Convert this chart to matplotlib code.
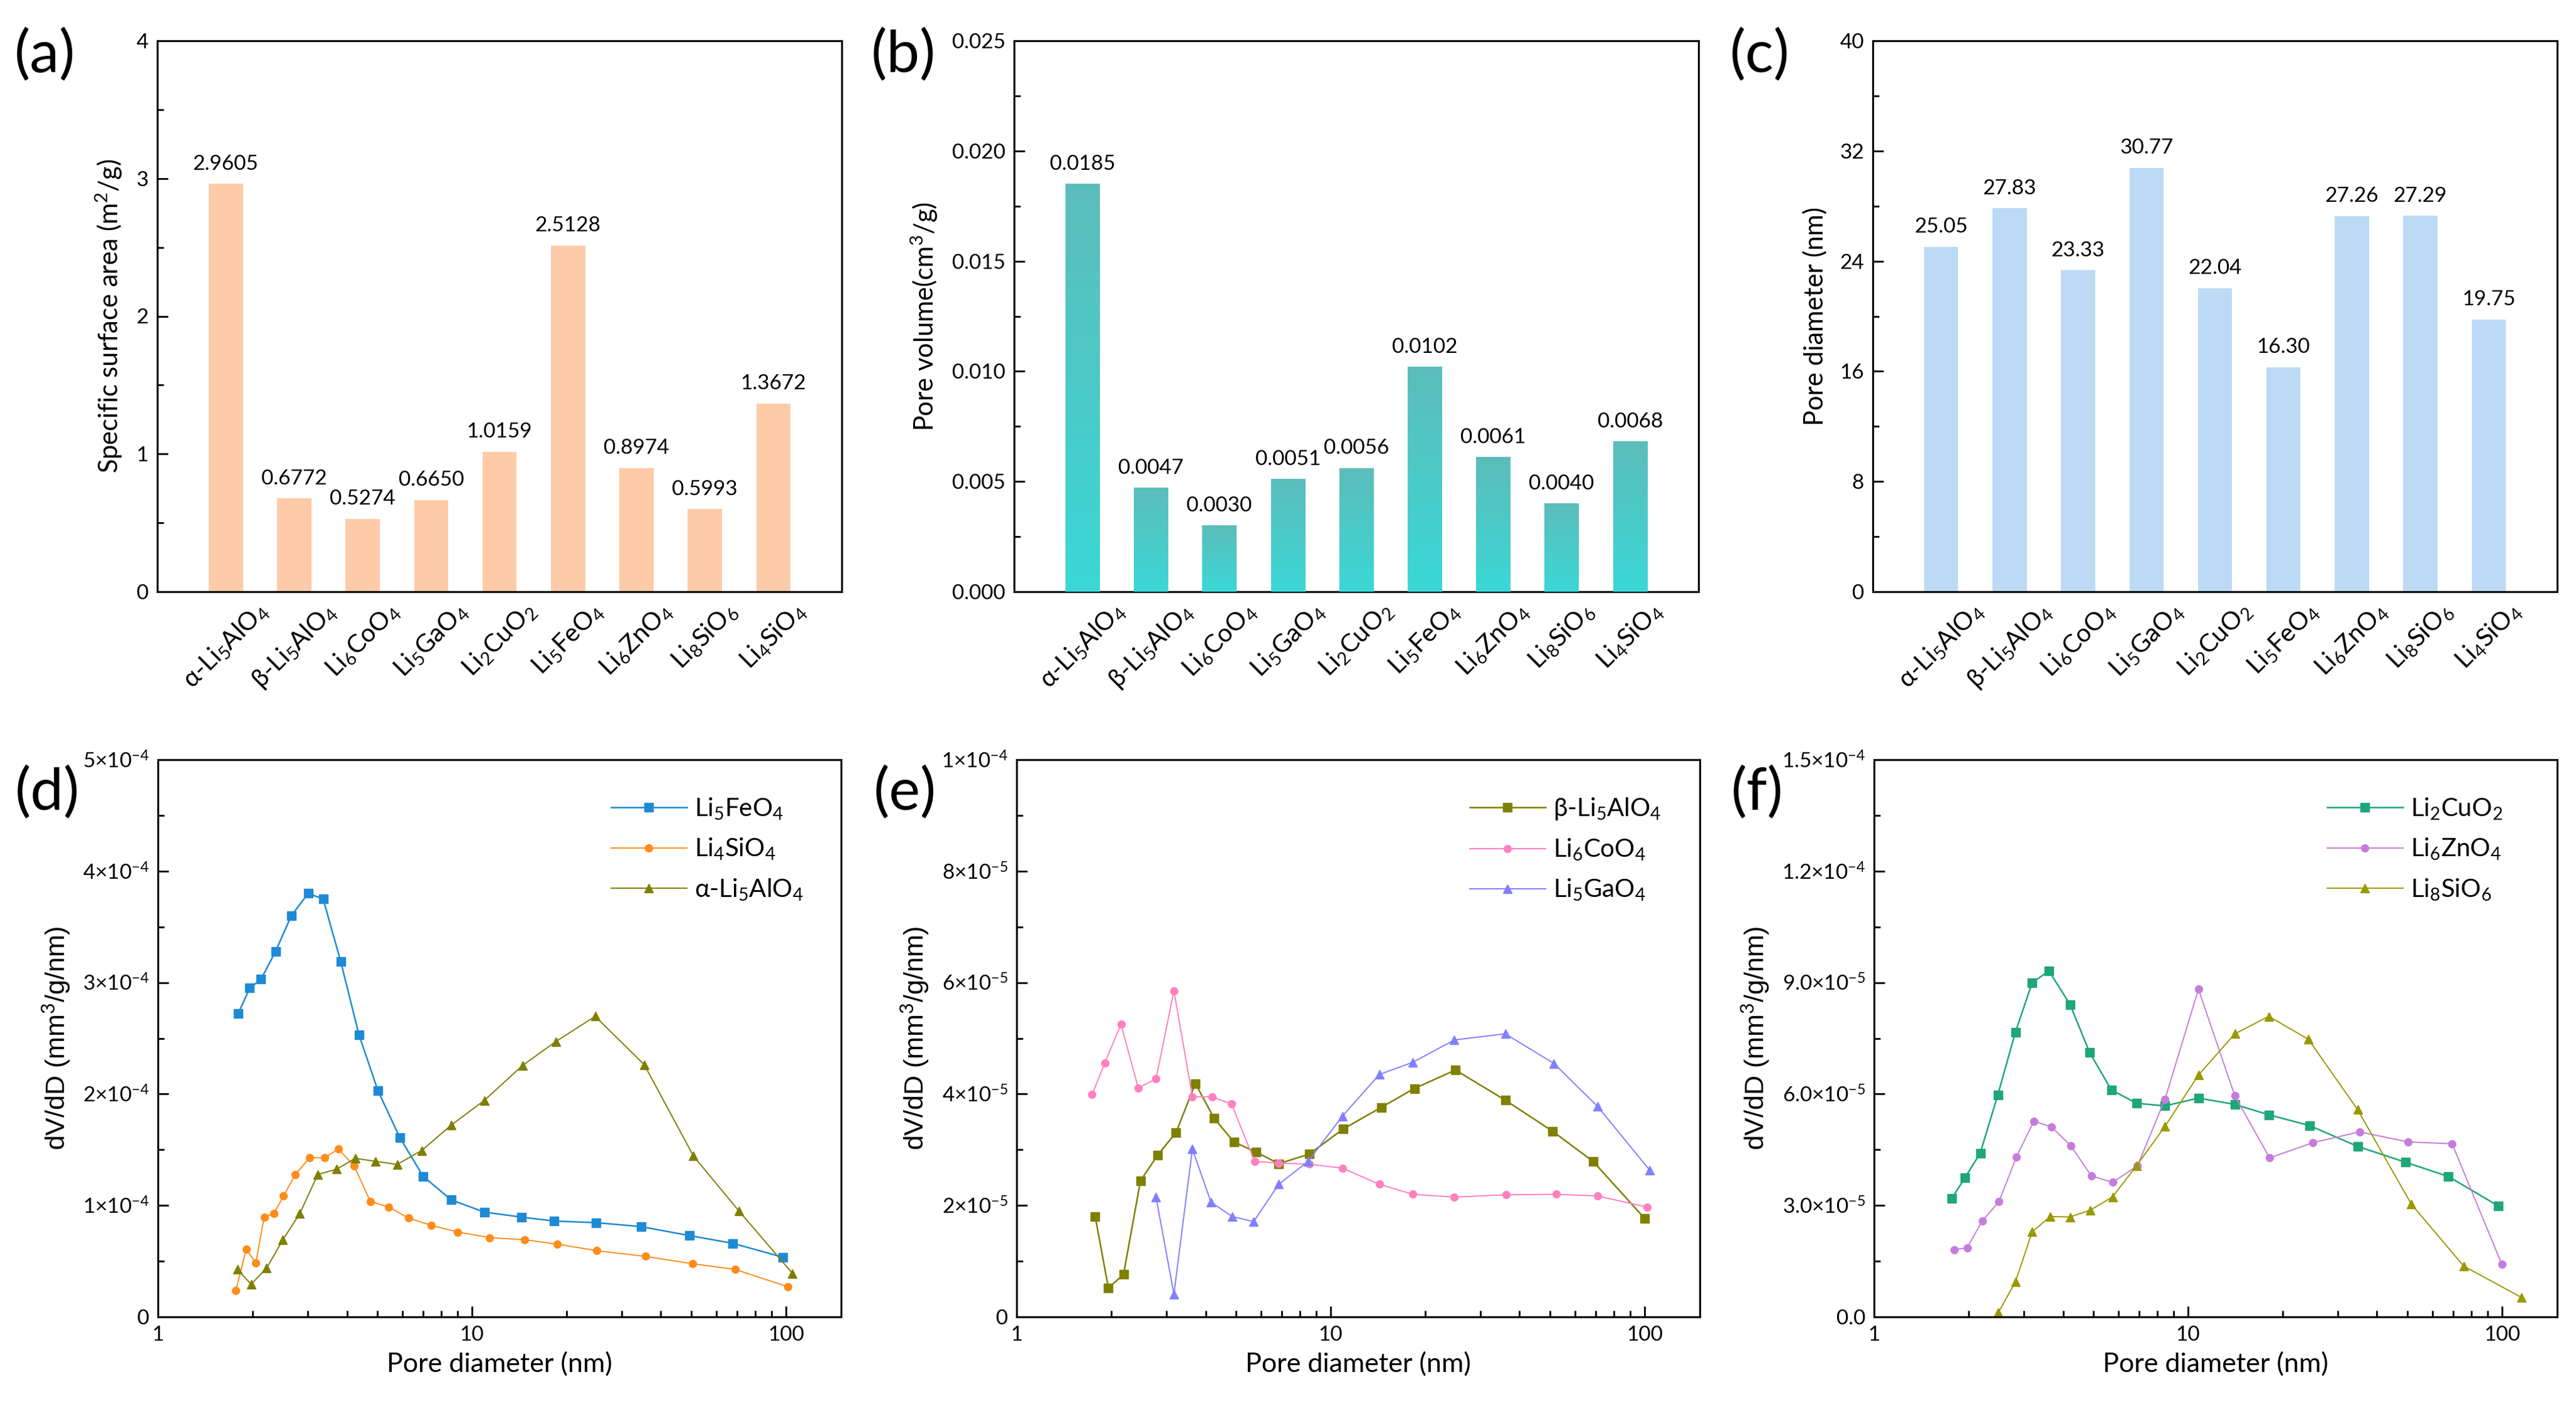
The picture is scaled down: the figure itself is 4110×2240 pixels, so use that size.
import numpy as np
import matplotlib
matplotlib.use("Agg")
import matplotlib.pyplot as plt
from matplotlib.colors import LinearSegmentedColormap
from matplotlib.ticker import MultipleLocator, FixedLocator, LogLocator, NullFormatter

plt.rcParams['font.family'] = ['Lato', 'DejaVu Sans']
plt.rcParams['mathtext.fontset'] = 'custom'
plt.rcParams['mathtext.rm'] = 'Lato'
plt.rcParams['mathtext.it'] = 'Lato:italic'
plt.rcParams['mathtext.bf'] = 'Lato:bold'

# ---- bar data (a)-(c)
samples = ['α-Li$_5$AlO$_4$', 'β-Li$_5$AlO$_4$', 'Li$_6$CoO$_4$', 'Li$_5$GaO$_4$', 'Li$_2$CuO$_2$',
           'Li$_5$FeO$_4$', 'Li$_6$ZnO$_4$', 'Li$_8$SiO$_6$', 'Li$_4$SiO$_4$']
surface_area = [2.9605, 0.6772, 0.5274, 0.6650, 1.0159, 2.5128, 0.8974, 0.5993, 1.3672]
pore_volume = [0.0185, 0.0047, 0.0030, 0.0051, 0.0056, 0.0102, 0.0061, 0.0040, 0.0068]
pore_diameter = [25.05, 27.83, 23.33, 30.77, 22.04, 16.30, 27.26, 27.29, 19.75]

# ---- pore size distributions (d)
d_fe_x = [1.80, 1.96, 2.13, 2.37, 2.66, 3.01, 3.36, 3.82, 4.37, 5.02, 5.89, 7.0, 8.59, 10.96, 14.4,
          18.3, 24.9, 34.6, 49.2, 67.8, 98]
d_fe_y = [2.72, 2.95, 3.03, 3.28, 3.60, 3.80, 3.75, 3.19, 2.53, 2.03, 1.61, 1.26, 1.05, 0.94, 0.895,
          0.86, 0.845, 0.81, 0.73, 0.66, 0.535]
d_si_x = [1.77, 1.91, 2.05, 2.18, 2.34, 2.51, 2.74, 3.04, 3.39, 3.76, 4.21, 4.75, 5.44, 6.28, 7.43,
          9.01, 11.4, 14.7, 18.7, 25.0, 35.7, 50.4, 68.9, 101.6]
d_si_y = [0.235, 0.606, 0.485, 0.895, 0.927, 1.083, 1.278, 1.427, 1.427, 1.505, 1.357, 1.036, 0.985,
          0.887, 0.821, 0.762, 0.711, 0.692, 0.653, 0.594, 0.543, 0.477, 0.426, 0.27]
d_al_x = [1.79, 1.98, 2.22, 2.50, 2.83, 3.23, 3.71, 4.25, 4.92, 5.78, 6.92, 8.59, 10.96, 14.5, 18.5,
          24.7, 35.4, 50.8, 70.9, 105]
d_al_y = [0.426, 0.293, 0.438, 0.692, 0.927, 1.278, 1.325, 1.423, 1.396, 1.368, 1.493, 1.72, 1.943,
          2.256, 2.47, 2.697, 2.263, 1.443, 0.95, 0.39]

# ---- (e)
e_bal_x = [1.78, 1.96, 2.19, 2.48, 2.81, 3.22, 3.71, 4.25, 4.92, 5.78, 6.84, 8.55, 10.96, 14.5, 18.5,
           25.0, 36.0, 51.0, 68.6, 100]
e_bal_y = [1.80, 0.52, 0.76, 2.44, 2.90, 3.31, 4.19, 3.57, 3.14, 2.96, 2.75, 2.92, 3.37, 3.76, 4.10,
           4.43, 3.89, 3.33, 2.79, 1.77]
e_co_x = [1.74, 1.91, 2.15, 2.44, 2.78, 3.17, 3.63, 4.19, 4.84, 5.73, 6.84, 8.55, 10.9, 14.3, 18.3,
          24.8, 36.2, 52.3, 70.8, 102]
e_co_y = [3.99, 4.56, 5.25, 4.11, 4.27, 5.85, 3.95, 3.95, 3.82, 2.79, 2.76, 2.74, 2.67, 2.38, 2.20,
          2.15, 2.19, 2.20, 2.17, 1.97]
e_ga_x = [2.78, 3.17, 3.63, 4.16, 4.86, 5.69, 6.84, 8.48, 10.9, 14.3, 18.3, 24.8, 36.0, 51.4, 70.8, 104]
e_ga_y = [2.15, 0.41, 3.01, 2.06, 1.80, 1.71, 2.38, 2.79, 3.60, 4.35, 4.57, 4.97, 5.08, 4.55, 3.78, 2.63]

# ---- (f)
f_cu_x = [1.77, 1.95, 2.18, 2.48, 2.82, 3.19, 3.61, 4.21, 4.86, 5.70, 6.86, 8.45, 10.8, 14.1, 18.1,
          24.4, 34.7, 49.4, 67.5, 97.2]
f_cu_y = [3.19, 3.75, 4.41, 5.98, 7.66, 9.0, 9.31, 8.41, 7.12, 6.11, 5.75, 5.68, 5.89, 5.72, 5.44,
          5.15, 4.59, 4.16, 3.78, 2.99]
f_zn_x = [1.80, 1.98, 2.21, 2.50, 2.84, 3.23, 3.68, 4.24, 4.92, 5.75, 6.91, 8.45, 10.8, 14.1, 18.2,
          25.0, 35.2, 50.2, 69.4, 100]
f_zn_y = [1.81, 1.86, 2.58, 3.10, 4.30, 5.27, 5.11, 4.60, 3.80, 3.62, 4.07, 5.86, 8.82, 5.95, 4.28,
          4.69, 4.98, 4.71, 4.66, 1.41]
f_si_x = [2.49, 2.82, 3.19, 3.64, 4.21, 4.88, 5.75, 6.86, 8.45, 10.8, 14.1, 18.1, 24.2, 34.7, 51.4,
          75.5, 115.6]
f_si_y = [0.12, 0.94, 2.29, 2.70, 2.69, 2.87, 3.23, 4.07, 5.13, 6.51, 7.62, 8.09, 7.47, 5.58, 3.04,
          1.37, 0.52]

W, H = 4110, 2240
fig = plt.figure(figsize=(W / 100, H / 100), dpi=100)

def box(left, top, width, height):
    return [left / W, 1 - (top + height) / H, width / W, height / H]

ax_a = fig.add_axes(box(251, 65, 1092, 879))
ax_b = fig.add_axes(box(1618, 65, 1092, 879))
ax_c = fig.add_axes(box(2988, 65, 1092, 879))
ax_d = fig.add_axes(box(252, 1212, 1090, 889))
ax_e = fig.add_axes(box(1622, 1212, 1090, 889))
ax_f = fig.add_axes(box(2990, 1212, 1090, 889))

TICK_FS = 24
LABEL_FS = 30

def style(ax):
    for s in ax.spines.values():
        s.set_linewidth(2.2)
        s.set_color('black')
    ax.tick_params(which='both', direction='in', top=False, right=False, width=2, labelsize=TICK_FS)
    ax.tick_params(which='major', length=12, pad=10)
    ax.tick_params(which='minor', length=7)

def bar_panel(ax, vals, color, ymax, major, fmt, ylabel, gradient=None):
    x = np.arange(len(vals))
    bars = ax.bar(x, vals, width=0.5, color=color, zorder=2)
    if gradient is not None:
        cmap = LinearSegmentedColormap.from_list('g', gradient)
        grad = np.linspace(1, 0, 256).reshape(-1, 1)
        for b in bars:
            x0, y0 = b.get_xy()
            ax.imshow(grad, extent=[x0, x0 + b.get_width(), y0, y0 + b.get_height()],
                      aspect='auto', cmap=cmap, zorder=3)
    for xi, v in zip(x, vals):
        ax.annotate(fmt.format(v), (xi, v), xytext=(0, 12), textcoords='offset points',
                    ha='center', va='bottom', fontsize=TICK_FS)
    ax.set_xlim(-1, len(vals))
    ax.set_ylim(0, ymax)
    ax.set_aspect('auto')
    ax.yaxis.set_major_locator(MultipleLocator(major))
    ax.yaxis.set_minor_locator(MultipleLocator(major / 2))
    style(ax)
    ax.set_xticks(x)
    ax.set_xticklabels(samples, rotation=45, fontsize=29)
    ax.set_ylabel(ylabel, fontsize=LABEL_FS, labelpad=14)
    ax.tick_params(axis='x', which='both', length=0, pad=8)

bar_panel(ax_a, surface_area, '#fdcba8', 4, 1, '{:.4f}', 'Specific surface area (m$^2$/g)')
bar_panel(ax_b, pore_volume, '#4ccbc9', 0.025, 0.005, '{:.4f}', 'Pore volume(cm$^3$/g)',
          gradient=['#3ad8d6', '#5cbdbb'])
ax_b.yaxis.set_major_formatter(matplotlib.ticker.FormatStrFormatter('%.3f'))
bar_panel(ax_c, pore_diameter, '#bcdaf5', 40, 8, '{:.2f}', 'Pore diameter (nm)')

def psd_panel(ax, series, scale, ticks, ticklabels):
    for xs, ys, lab, col, mk, ms, lw in series:
        ax.plot(xs, np.array(ys) * scale, color=col, marker=mk, markersize=ms, lw=lw, label=lab)
    ax.set_xscale('log')
    ax.set_xlim(1, 150)
    ax.set_ylim(ticks[0], ticks[-1])
    ax.xaxis.set_major_locator(FixedLocator([1, 10, 100]))
    ax.xaxis.set_major_formatter(matplotlib.ticker.FixedFormatter(['1', '10', '100']))
    ax.xaxis.set_minor_locator(LogLocator(base=10, subs=np.arange(2, 10)))
    ax.xaxis.set_minor_formatter(NullFormatter())
    ax.set_yticks(ticks)
    ax.set_yticklabels(ticklabels)
    ax.yaxis.set_minor_locator(MultipleLocator((ticks[1] - ticks[0]) / 2))
    ax.set_xlabel('Pore diameter (nm)', fontsize=31, labelpad=8)
    ax.set_ylabel('dV/dD (mm$^3$/g/nm)', fontsize=31, family='Liberation Sans', labelpad=12)
    style(ax)
    ax.legend(loc='upper left', bbox_to_anchor=(0.63, 0.975), frameon=False, fontsize=29,
              handlelength=3.0, handletextpad=0.3, labelspacing=0.6, numpoints=1)

psd_panel(ax_d, [
    (d_fe_x, d_fe_y, 'Li$_5$FeO$_4$', '#1e8ad6', 's', 10, 1.8),
    (d_si_x, d_si_y, 'Li$_4$SiO$_4$', '#ff8c1a', 'o', 8.5, 1.4),
    (d_al_x, d_al_y, 'α-Li$_5$AlO$_4$', '#7f7f00', '^', 10, 1.4),
], 1e-4, [0, 1e-4, 2e-4, 3e-4, 4e-4, 5e-4],
    ['0'] + ['%d×10$^{-4}$' % i for i in range(1, 6)])

psd_panel(ax_e, [
    (e_bal_x, e_bal_y, 'β-Li$_5$AlO$_4$', '#808000', 's', 10, 1.8),
    (e_co_x, e_co_y, 'Li$_6$CoO$_4$', '#ff80bf', 'o', 8.5, 1.4),
    (e_ga_x, e_ga_y, 'Li$_5$GaO$_4$', '#8080ff', '^', 10, 1.4),
], 1e-5, [0, 2e-5, 4e-5, 6e-5, 8e-5, 1e-4],
    ['0', '2×10$^{-5}$', '4×10$^{-5}$', '6×10$^{-5}$', '8×10$^{-5}$', '1×10$^{-4}$'])

psd_panel(ax_f, [
    (f_cu_x, f_cu_y, 'Li$_2$CuO$_2$', '#1fa67a', 's', 10, 1.8),
    (f_zn_x, f_zn_y, 'Li$_6$ZnO$_4$', '#c77cdb', 'o', 8.5, 1.4),
    (f_si_x, f_si_y, 'Li$_8$SiO$_6$', '#999900', '^', 10, 1.4),
], 1e-5, [0, 3e-5, 6e-5, 9e-5, 1.2e-4, 1.5e-4],
    ['0.0', '3.0×10$^{-5}$', '6.0×10$^{-5}$', '9.0×10$^{-5}$', '1.2×10$^{-4}$', '1.5×10$^{-4}$'])

# panel letters
for ax, letter in zip([ax_a, ax_b, ax_c, ax_d, ax_e, ax_f], 'abcdef'):
    pos = ax.get_position()
    top = 45 if letter in 'abc' else 1222
    fig.text(pos.x0 - 228 / W, 1 - top / H, '(%s)' % letter, fontsize=68, ha='left', va='top')

fig.savefig('out.png', dpi=100)
